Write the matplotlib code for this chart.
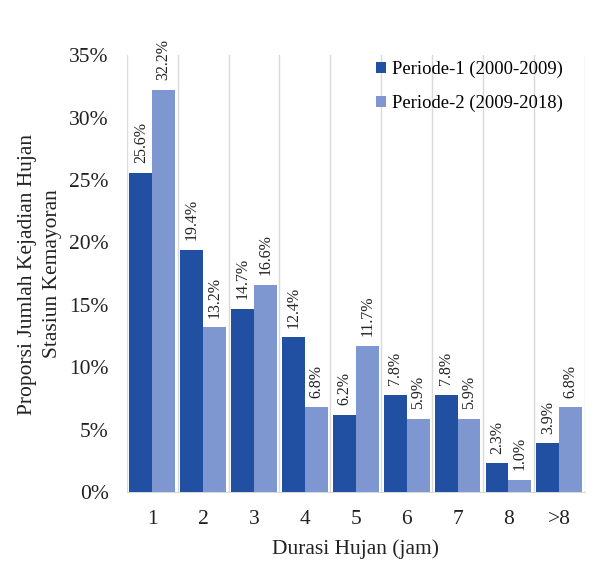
import matplotlib
matplotlib.use("Agg")
import matplotlib.pyplot as plt
import numpy as np

categories = ["1", "2", "3", "4", "5", "6", "7", "8", ">8"]
periode1 = [25.6, 19.4, 14.7, 12.4, 6.2, 7.8, 7.8, 2.3, 3.9]
periode2 = [32.2, 13.2, 16.6, 6.8, 11.7, 5.9, 5.9, 1.0, 6.8]
series_names = ["Periode-1 (2000-2009)", "Periode-2 (2009-2018)"]
yticks = [0, 5, 10, 15, 20, 25, 30, 35]

plt.rcParams['font.family'] = ['Liberation Serif', 'DejaVu Serif']

fig = plt.figure(figsize=(6.01, 5.69), dpi=100)
ax = fig.add_axes([0.211, 0.135, 0.762, 0.768])

x = np.arange(len(categories))
w = 0.45
c1 = "#2150a2"
c2 = "#7f97d1"
b1 = ax.bar(x - w/2, periode1, w, color=c1, label=series_names[0], zorder=3)
b2 = ax.bar(x + w/2, periode2, w, color=c2, label=series_names[1], zorder=3)

for bars, vals in ((b1, periode1), (b2, periode2)):
    for r, v in zip(bars, vals):
        ax.annotate(f"{v:.1f}%", (r.get_x() + r.get_width()/2, v),
                    xytext=(0, 7), textcoords="offset points",
                    rotation=90, ha="center", va="bottom", fontsize=11.5, color="#222222")

ax.set_xlim(-0.5, len(categories) - 0.5)
ax.set_ylim(0, 35)
ax.set_yticks(yticks)
ax.set_yticklabels([f"{t}%" for t in yticks], fontsize=15.5)
ax.set_xticks(x)
ax.set_xticklabels(categories, fontsize=15.5)
for b in np.arange(-0.5, len(categories), 1.0):
    ax.axvline(b, color="#d9d9d9", lw=1, zorder=1)

for s in ["top", "right", "left"]:
    ax.spines[s].set_visible(False)
ax.spines["bottom"].set_color("#d9d9d9")
ax.tick_params(axis="y", length=0, pad=13, colors="#222222")
ax.tick_params(axis="x", length=0, pad=13, colors="#222222")

ax.set_xlabel("Durasi Hujan (jam)", fontsize=15.5, labelpad=7, color="#222222")
fig.text(40/601, 1 - 274/569, "Proporsi Jumlah Kejadian Hujan\nStasiun Kemayoran",
         rotation=90, ha="center", va="center", fontsize=15.5, color="#222222",
         linespacing=1.4, multialignment="center")

ax.legend(loc="upper right", bbox_to_anchor=(568/601, 1 - 55/569),
          bbox_transform=fig.transFigure, frameon=False, fontsize=13.4,
          handlelength=0.55, handleheight=0.55, handletextpad=0.3, labelspacing=0.9,
          borderaxespad=0.0, borderpad=0.3)

fig.savefig("out.png", dpi=100)
